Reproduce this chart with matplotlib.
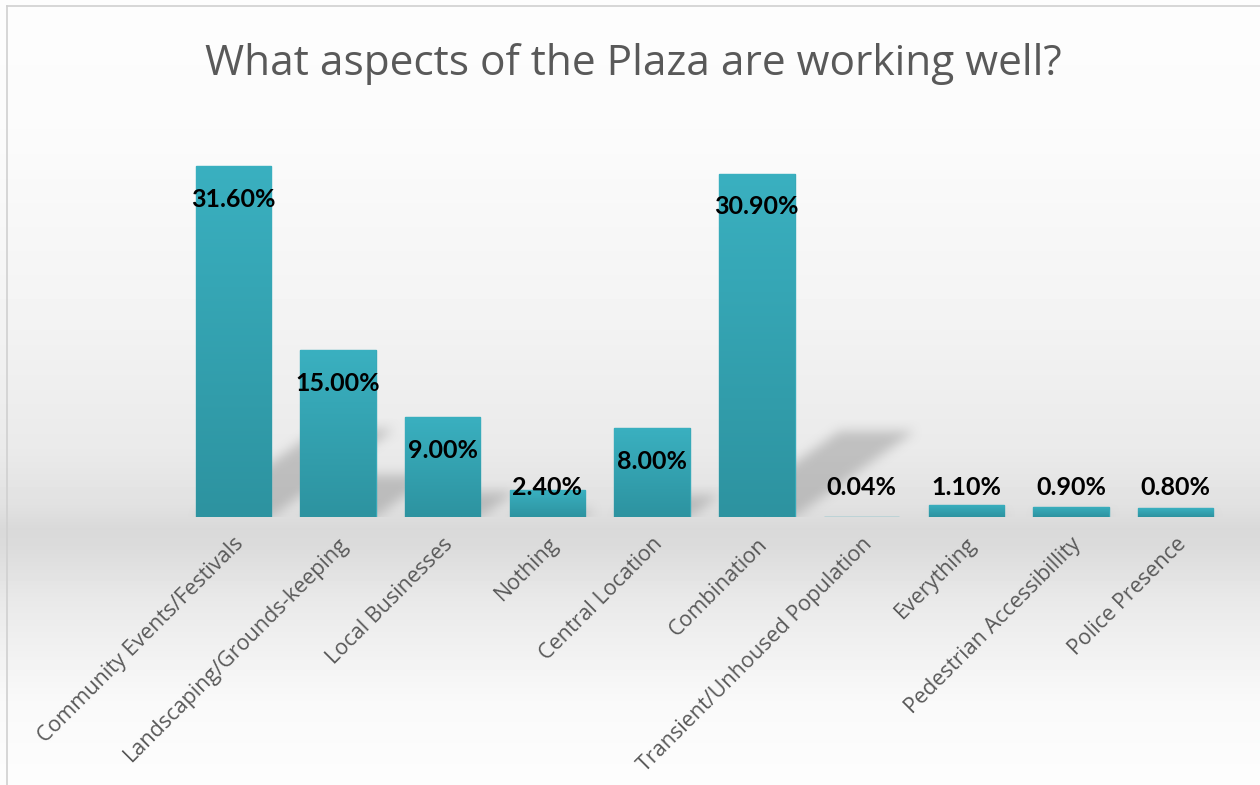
import numpy as np
import matplotlib
matplotlib.use("Agg")
from matplotlib import pyplot as plt
from matplotlib.path import Path

# data
categories = ["Community Events/Festivals", "Landscaping/Grounds-keeping", "Local Businesses",
              "Nothing", "Central Location", "Combination", "Transient/Unhoused Population",
              "Everything", "Pedestrian Accessibillity", "Police Presence"]
values = [31.6, 15.0, 9.0, 2.4, 8.0, 30.9, 0.04, 1.1, 0.9, 0.8]
value_labels = ["31.60%", "15.00%", "9.00%", "2.40%", "8.00%", "30.90%", "0.04%", "1.10%", "0.90%", "0.80%"]
title = "What aspects of the Plaza are working well?"

W, H, DPI = 1260, 785, 100
fig = plt.figure(figsize=(W / DPI, H / DPI), dpi=DPI)

# background gradient (white -> grey band at the baseline -> white)
bg = fig.add_axes([0, 0, 1, 1], zorder=-10)
rows = np.arange(H)
stops_y = [0, 130, 300, 450, 505, 528, 545, 600, 700, 785]
stops_g = [253, 251, 244, 234, 225, 217, 219, 233, 249, 253]
grey = np.interp(rows, stops_y, stops_g) / 255.0
bg_img = np.repeat(grey[:, None], W, axis=1)
bg.imshow(bg_img, cmap="gray", vmin=0, vmax=1, extent=[0, W, H, 0], aspect="auto", interpolation="bilinear")
bg.plot([7, 7], [6, H], color="#d0d0d0", lw=1.2)
bg.plot([7, W], [6, 6], color="#d0d0d0", lw=1.2)
bg.set_xlim(0, W)
bg.set_ylim(H, 0)
bg.axis("off")

ax = fig.add_axes([181 / W, 268 / H, 1047 / W, 389 / H])
ax.set_xlim(-0.5, len(values) - 0.5)
ax.set_ylim(0, 35)
ax.patch.set_alpha(0)
for s in ax.spines.values():
    s.set_visible(False)
ax.set_yticks([])

x = np.arange(len(values))
bw = 0.72
bars = ax.bar(x, values, width=bw, color="#35a5b4", edgecolor="#37a9b8", linewidth=1.0, zorder=3)

# gradient fill on each bar
grad = np.linspace(0, 1, 100)[:, None]
top_c = np.array([58, 176, 192]) / 255.0
bot_c = np.array([45, 147, 160]) / 255.0
grad_rgb = top_c[None, None, :] * (1 - grad[:, :, None]) + bot_c[None, None, :] * grad[:, :, None]
for b in bars:
    x0, y0 = b.get_x(), b.get_y()
    im = ax.imshow(grad_rgb, extent=[x0, x0 + b.get_width(), y0, y0 + b.get_height()],
                   aspect="auto", zorder=4, interpolation="bilinear")
    im.set_clip_path(b)

# soft perspective shadows behind the bars (pixel rows counted from the bottom)
shadow = np.zeros((H, W))
yy, xx = np.mgrid[0:H, 0:W]
pts = np.column_stack([xx.ravel() + 0.5, yy.ravel() + 0.5])
for b in bars:
    (px0, py0) = ax.transData.transform((b.get_x(), 0))
    (px1, py1) = ax.transData.transform((b.get_x() + b.get_width(), b.get_height()))
    h = py1 - py0
    dx, dy = 0.35 * h, 0.25 * h
    poly = Path([(px0, py0), (px1, py0), (px1 + dx, py0 + dy), (px0 + dx, py0 + dy)])
    shadow = np.maximum(shadow, poly.contains_points(pts).reshape(H, W).astype(float))
base_px = ax.transData.transform((0, 0))[1]


def box_blur(a, r):
    k = np.ones(2 * r + 1) / (2 * r + 1)
    a = np.apply_along_axis(lambda m: np.convolve(m, k, mode="same"), 0, a)
    a = np.apply_along_axis(lambda m: np.convolve(m, k, mode="same"), 1, a)
    return a


for _ in range(2):
    shadow = box_blur(shadow, 6)
shadow[yy < base_px] = 0
rgba = np.zeros((H, W, 4))
rgba[..., :3] = 0.55
rgba[..., 3] = shadow * 0.45
# bg has an inverted y axis, so flip the bottom-up rows
bg.imshow(rgba[::-1], extent=[0, W, H, 0], aspect="auto", zorder=1)
bg.set_ylim(H, 0)

# value labels
for xi, v, lab in zip(x, values, value_labels):
    ax.text(xi, max(v - 3.0, 2.65), lab, ha="center", va="center", fontsize=18,
            fontweight="bold", color="black", family="Lato", zorder=6)

ax.set_xticks(x)
ax.set_xticklabels(categories, rotation=45, ha="right", rotation_mode="anchor",
                   fontsize=15.5, color="#595959", family="Open Sans")
ax.tick_params(axis="x", length=0, pad=12)

fig.text(0.503, 0.918, title, ha="center", va="center", fontsize=30.5, color="#595959",
         family="Open Sans")

fig.savefig("out.png", dpi=DPI)
